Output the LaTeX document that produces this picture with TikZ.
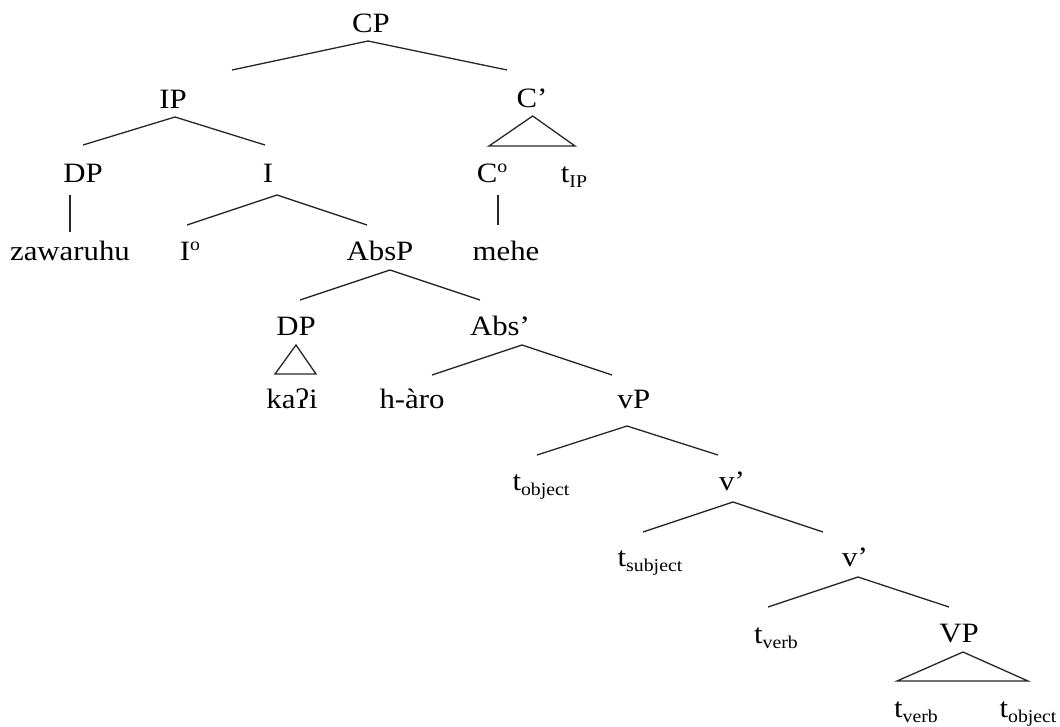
\documentclass[tikz,border=0pt]{standalone}
\usepackage{fontspec}
\setmainfont{Liberation Serif}[FakeStretch=1.1]
\newcommand{\trc}[1]{t\raisebox{-5pt}{\fontsize{18}{20}\selectfont #1}}
\newcommand{\hd}[1]{#1\raisebox{10pt}{\fontsize{18}{20}\selectfont o}}
\begin{document}
\begin{tikzpicture}[x=1pt,y=-1pt,
  lbl/.style={inner sep=0pt, anchor=base, font=\fontsize{28}{30}\selectfont, text=black},
  branch/.style={line width=1.3pt, draw=black!85, line join=miter},
  tri/.style={line width=1.3pt, draw=black!85, line join=miter}]
\useasboundingbox (0,0) rectangle (1060,726);
% labels
\node[lbl] (CP) at (371,32) {CP};
\node[lbl] (IP) at (173,108) {IP};
\node[lbl] (Cbar) at (532,107) {C’};
\node[lbl] (DPa) at (83,182) {DP};
\node[lbl] (I) at (268,182) {I};
\node[lbl] (C0) at (492,182) {\hd{C}};
\node[lbl] (tIP) at (574,182) {\trc{IP}};
\node[lbl] (zaw) at (70,260) {zawaruhu};
\node[lbl] (I0) at (190,260) {\hd{I}};
\node[lbl] (AbsP) at (380,260) {AbsP};
\node[lbl] (mehe) at (506,260) {mehe};
\node[lbl] (DPb) at (296,335) {DP};
\node[lbl] (Absbar) at (500,335) {Abs’};
\node[lbl] (kai) at (292,408) {kaʔi};
\node[lbl] (haro) at (412,408) {h-àro};
\node[lbl] (vP) at (634,408) {vP};
\node[lbl] (tobj) at (541,490) {\trc{object}};
\node[lbl] (vbara) at (732,490) {v’};
\node[lbl] (tsubj) at (650,566) {\trc{subject}};
\node[lbl] (vbarb) at (855,566) {v’};
\node[lbl] (tverba) at (776,643) {\trc{verb}};
\node[lbl] (VP) at (959,642) {VP};
\node[lbl] (tverbb) at (916,717) {\trc{verb}};
\node[lbl] (tobjb) at (1028,717) {\trc{object}};
% branch points
\coordinate (CPt) at (368,41);  \coordinate (CPl) at (232,70);  \coordinate (CPr) at (507,70);
\coordinate (IPt) at (175,117); \coordinate (IPl) at (83,145);  \coordinate (IPr) at (265,145);
\coordinate (Ct) at (532.7,116); \coordinate (Cl) at (489,146); \coordinate (Cr) at (575,146);
\coordinate (DPat) at (70,195); \coordinate (DPab) at (70,232);
\coordinate (It) at (277,195);  \coordinate (Il) at (187,225);  \coordinate (Ir) at (367,225);
\coordinate (C0t) at (498,195); \coordinate (C0b) at (498,225);
\coordinate (At) at (390,270);  \coordinate (Al) at (300,300);  \coordinate (Ar) at (480,300);
\coordinate (Dt) at (296,345);  \coordinate (Dl) at (275,374);  \coordinate (Dr) at (316,374);
\coordinate (Bt) at (522,345);  \coordinate (Bl) at (432,375);  \coordinate (Br) at (612,375);
\coordinate (vPt) at (627,426); \coordinate (vPl) at (537,455); \coordinate (vPr) at (718,455);
\coordinate (vat) at (733,502); \coordinate (val) at (643,532); \coordinate (var) at (823,532);
\coordinate (vbt) at (858,577); \coordinate (vbl) at (768,607); \coordinate (vbr) at (949,607);
\coordinate (VPt) at (963,652); \coordinate (VPl) at (897,681); \coordinate (VPr) at (1028,681);
% branches
\draw[branch] (CPl) -- (CPt) -- (CPr);
\draw[branch] (IPl) -- (IPt) -- (IPr);
\draw[tri] (Ct) -- (Cl) -- (Cr) -- cycle;
\draw[branch] (DPat) -- (DPab);
\draw[branch] (Il) -- (It) -- (Ir);
\draw[branch] (C0t) -- (C0b);
\draw[branch] (Al) -- (At) -- (Ar);
\draw[tri] (Dt) -- (Dl) -- (Dr) -- cycle;
\draw[branch] (Bl) -- (Bt) -- (Br);
\draw[branch] (vPl) -- (vPt) -- (vPr);
\draw[branch] (val) -- (vat) -- (var);
\draw[branch] (vbl) -- (vbt) -- (vbr);
\draw[tri] (VPt) -- (VPl) -- (VPr) -- cycle;
\end{tikzpicture}
\end{document}
